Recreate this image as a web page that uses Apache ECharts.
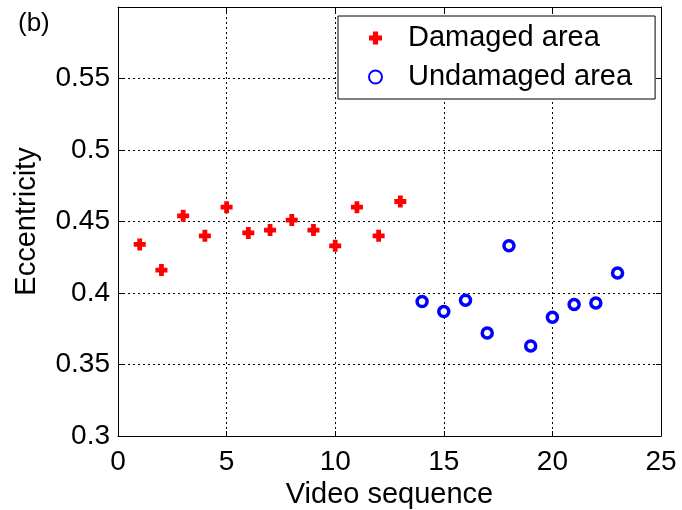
<!DOCTYPE html>
<html><head><meta charset="utf-8">
<script src="https://cdn.jsdelivr.net/npm/echarts@6/dist/echarts.min.js"></script>
<style>html,body{margin:0;padding:0;background:#fff}#c{width:682px;height:510px}</style>
</head><body><div id="c"></div>
<script>
const damagedX = [1,2,3,4,5,6,7,8,9,10,11,12,13];
const damagedY = [0.434,0.416,0.454,0.440,0.460,0.442,0.444,0.451,0.444,0.433,0.460,0.440,0.464];
const undamagedX = [14,15,16,17,18,19,20,21,22,23];
const undamagedY = [0.394,0.387,0.395,0.372,0.433,0.363,0.383,0.392,0.393,0.414];
const xTicks = [0,5,10,15,20,25];
const yTicks = [0.3,0.35,0.4,0.45,0.5,0.55];
const seriesNames = ['Damaged area','Undamaged area'];

const font = 'Liberation Sans, Arial, sans-serif';
const plus = 'path://M3,0H7V3H10V7H7V10H3V7H0V3H3Z';
const chart = echarts.init(document.getElementById('c'));
const axCommon = {
  axisLine:{show:true,onZero:false,lineStyle:{color:'#000',width:1}},
  axisTick:{show:true,inside:true,length:5,lineStyle:{color:'#000'}},
};
chart.setOption({
  animation:false,
  backgroundColor:'#fff',
  grid:{left:118,right:21,top:7,bottom:74,show:false,outerBoundsMode:'none',containLabel:false},
  graphic:[{type:'text',left:18,top:11,style:{text:'(b)',font:'26px '+font,fill:'#000'}}],
  legend:{
    orient:'vertical',left:338,top:16,
    padding:[7,23,7,30],itemGap:9,itemWidth:13,itemHeight:13,
    borderColor:'#000',borderWidth:1,backgroundColor:'#fff',
    textStyle:{fontFamily:font,fontSize:29,lineHeight:30,color:'#000',padding:[0,0,0,21]},
    data:seriesNames
  },
  xAxis:[{type:'value',min:0,max:25,interval:5,...axCommon,
    axisLabel:{fontFamily:font,fontSize:28,color:'#000',margin:12,
      formatter:v=>{const t=xTicks.find(a=>Math.abs(a-v)<1e-9);return t===undefined?'':String(t);}},
    splitLine:{show:true,lineStyle:{color:'#000',type:[2,3],width:1}},
    name:'Video sequence',nameLocation:'middle',nameGap:39,
    nameTextStyle:{fontFamily:font,fontSize:29,color:'#000'}},
   {type:'value',position:'top',min:0,max:25,interval:5,...axCommon,axisLabel:{show:false},splitLine:{show:false}}],
  yAxis:[{type:'value',min:0.3,max:0.6,interval:0.05,...axCommon,
    axisLabel:{fontFamily:font,fontSize:28,color:'#000',margin:8,showMaxLabel:false,
      formatter:v=>{const t=yTicks.find(a=>Math.abs(a-v)<1e-9);return t===undefined?'':String(t);}},
    splitLine:{show:true,lineStyle:{color:'#000',type:[2,3],width:1}},
    name:'Eccentricity',nameLocation:'middle',nameGap:77,
    nameTextStyle:{fontFamily:font,fontSize:29,color:'#000'}},
   {type:'value',position:'right',min:0.3,max:0.6,interval:0.05,...axCommon,axisLabel:{show:false},splitLine:{show:false}}],
  series:[
    {name:seriesNames[0],type:'scatter',symbol:plus,symbolSize:12,
     itemStyle:{color:'#ff0000',opacity:1},
     data:damagedX.map((x,i)=>[x,damagedY[i]])},
    {name:seriesNames[1],type:'scatter',symbol:'circle',symbolSize:10,
     itemStyle:{color:'#fff',borderColor:'#0000ff',borderWidth:3.5,opacity:1},
     data:undamagedX.map((x,i)=>[x,undamagedY[i]])}
  ]
});
</script></body></html>
